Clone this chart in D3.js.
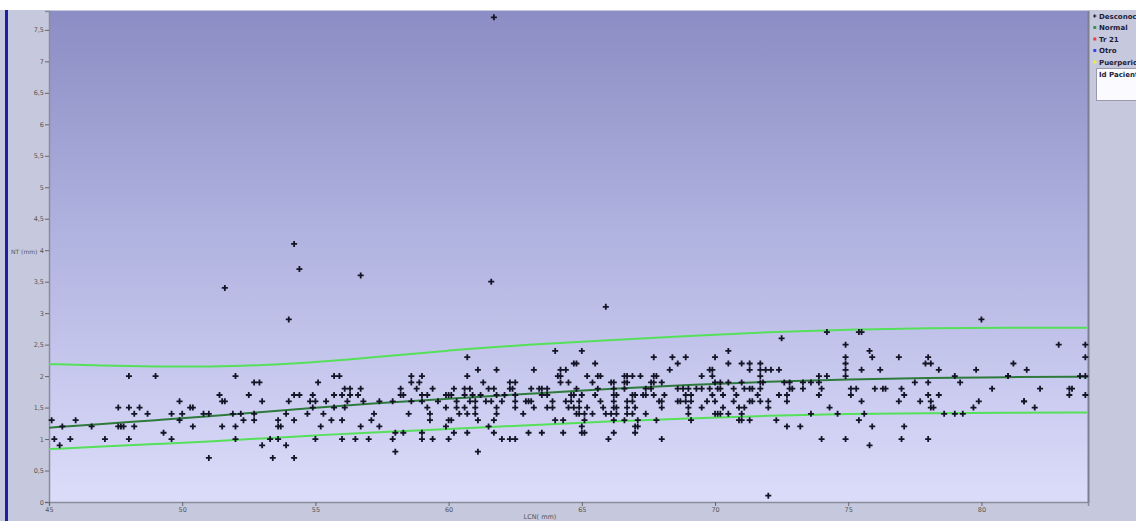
<!DOCTYPE html>
<html>
<head>
<meta charset="utf-8">
<script src="https://cdn.jsdelivr.net/npm/d3@7"></script>
<style>
  html, body { margin: 0; padding: 0; background: #ffffff; }
  svg { display: block; }
  text { font-family: "DejaVu Sans", "Liberation Sans", sans-serif; }
</style>
</head>
<body>
<svg id="chart" width="1136" height="521"></svg>
<script>
// ---- data -------------------------------------------------------------
// Reference curves (LCN in mm) : upper limit, median, lower limit of NT
const curveLCN   = [45, 47, 49, 51, 53, 55, 57, 60, 63, 66, 69, 72, 75, 78, 81, 84];
const curveUpper = [2.19, 2.17, 2.15, 2.15, 2.17, 2.22, 2.29, 2.41, 2.50, 2.57, 2.64, 2.70, 2.74, 2.76, 2.77, 2.77];
const curveMid   = [1.18, 1.24, 1.30, 1.36, 1.43, 1.50, 1.56, 1.64, 1.72, 1.80, 1.86, 1.91, 1.95, 1.97, 1.985, 1.99];
const curveLower = [0.84, 0.88, 0.92, 0.96, 1.01, 1.06, 1.10, 1.16, 1.22, 1.28, 1.33, 1.37, 1.40, 1.41, 1.42, 1.42];

// Patients (category "Desconocido"): LCN (mm) and NT (mm)
const patientLCN = [
  51.6, 54.2, 54.4, 56.7, 61.6, 61.7, 65.9, 80.0, 54.0, 72.0, 82.9, 83.9, 74.2, 75.4, 75.5, 72.5, 74.9, 70.5, 75.8, 64.0, 65.0, 60.7,
  45.1, 45.2, 45.4, 45.5, 45.8, 46.0, 46.6, 47.1, 47.6, 47.6, 47.7, 47.8, 48.0, 48.0, 48.0, 48.2, 48.2, 48.4, 48.7, 49.0, 49.3, 49.6, 49.6,
  49.9, 49.9, 50.0, 50.3, 50.4, 50.4, 50.8, 51.0, 51.0, 51.4, 51.5, 51.6, 51.5, 51.9, 52.0, 52.0, 52.0, 52.2, 52.3, 52.5, 52.7, 52.9,
  52.7, 52.7, 53.0, 53.0, 53.3, 53.4, 53.6, 53.6, 53.7, 53.6, 53.9, 53.9, 54.0, 54.2, 54.2, 54.2, 54.4, 54.7, 54.8, 55.0, 54.9, 54.9,
  55.0, 55.1, 55.2, 55.3, 55.4, 55.6, 55.7, 55.7, 55.7, 55.9,
  61.1, 61.8, 63.2, 64.2, 64.4,
  64.7, 64.8, 65.5,
  58.6, 59.0, 60.7, 64.1, 64.2, 65.2, 65.6, 65.7, 66.6,
  58.6, 58.9, 61.3, 62.3, 62.5, 64.2, 64.5, 65.4, 66.1, 66.2, 66.6, 66.7,
  56.1, 56.3, 56.7, 58.2, 58.8, 59.4, 60.2, 60.6, 60.8, 61.5, 61.7, 62.3, 62.4, 63.1, 63.4, 63.5, 63.7, 64.8, 65.6, 66.2, 66.6,
  56.0, 56.3, 56.6, 58.2, 58.3, 59.0, 59.2, 59.9, 60.0, 60.1, 60.6, 60.9, 61.2, 61.8, 62.1, 62.5, 63.5, 63.7, 64.6, 64.7, 65.0, 65.5, 66.2, 66.3,
  56.2, 56.8, 57.4, 57.9, 58.6, 59.0, 59.6, 60.3, 60.8, 61.0, 61.4, 61.6, 62.0, 62.5, 62.9, 63.0, 63.1, 63.9, 64.4, 64.6, 64.9, 65.7, 66.2, 66.7,
  56.1, 59.2, 59.9, 60.3, 60.6, 61.0, 61.8, 62.5, 63.2, 63.7, 63.9, 64.5, 64.7, 64.9, 65.2, 65.8, 66.2, 66.3,
  57.2, 58.5, 59.3, 60.4, 60.7, 61.0, 61.8, 62.8, 64.8, 64.9, 65.1, 65.4, 65.9, 66.1, 66.3,
  56.0, 57.1, 59.3, 60.0, 60.1, 61.1, 61.7, 64.0, 64.3, 65.1, 66.2, 66.6,
  56.7, 57.4, 59.9, 61.5, 65.0,
  58.0, 58.3, 59.0, 60.2, 60.7, 61.7, 63.0, 63.5, 64.3, 65.0, 65.1, 66.2,
  56.0, 56.5, 57.0, 57.9, 59.0, 59.4, 60.0, 62.0, 62.3, 62.5, 66.0,
  58.0, 61.1,
  67.7, 68.4, 68.9, 70.0, 74.9, 75.9, 76.9,
  68.6, 70.5, 71.0, 71.3, 71.7, 74.9,
  68.3, 69.8, 69.9, 71.3, 71.7, 71.9, 72.1, 72.4, 74.9, 75.5, 76.2,
  66.7, 66.9, 67.2, 67.7, 67.8, 69.5, 69.9, 71.7, 73.9, 74.2, 74.9,
  67.6, 67.7, 68.0, 70.0, 70.2, 70.5, 71.0, 71.7, 71.8, 72.6, 72.8, 73.3, 73.6, 73.9, 77.5,
  67.4, 67.6, 68.6, 68.8, 69.0, 69.3, 69.5, 69.8, 70.1, 70.2, 70.7, 71.1, 71.3, 71.4, 71.7, 72.8, 72.9, 73.3, 74.0, 75.1, 75.3, 76.0, 76.3, 76.4, 77.0,
  66.9, 67.0, 67.3, 67.4, 67.7, 68.1, 68.9, 69.1, 69.9, 70.3, 70.8, 71.6, 72.4, 72.7, 73.9, 75.1, 77.1,
  66.9, 67.9, 68.0, 68.6, 68.7, 68.9, 69.1, 69.7, 70.0, 70.7, 71.3, 71.4, 71.7, 72.0, 72.7, 75.5, 76.9,
  66.7, 67.0, 68.0, 69.0, 69.5, 70.3, 70.9, 71.1, 72.0, 74.3,
  66.7, 66.9, 67.4, 69.0, 70.0, 70.1, 70.2, 70.5, 71.0, 73.6, 74.6, 75.6,
  67.1, 67.8, 69.1, 70.9, 71.0, 71.3, 72.3, 75.4,
  67.0, 67.1, 72.7, 73.2, 75.9, 77.1,
  67.0,
  68.0, 74.0, 74.9, 77.0,
  75.8,
  78.0, 83.9,
  77.9, 78.1, 81.2,
  78.4, 79.8, 81.7,
  79.0, 81.0, 81.0, 83.7, 83.9,
  78.0, 79.2,
  80.4, 82.2, 83.3, 83.4,
  78.0, 78.4, 83.3, 83.9,
  77.7, 78.1, 79.9, 81.6, 81.6,
  78.1, 78.2, 79.7, 82.0,
  78.6, 79.0, 79.3,
  78.0
];
const patientNT = [
  3.4, 4.1, 3.7, 3.6, 3.5, 7.7, 3.1, 2.9, 2.9, 0.1, 2.5, 2.5, 2.7, 2.7, 2.7, 2.6, 2.5, 2.4, 2.4, 2.4, 2.4, 2.3,
  1.3, 1.0, 0.9, 1.2, 1.0, 1.3, 1.2, 1.0, 1.5, 1.2, 1.2, 1.2, 2.0, 1.5, 1.0, 1.4, 1.2, 1.5, 1.4, 2.0, 1.1, 1.4, 1.0,
  1.6, 1.3, 1.4, 1.5, 1.5, 1.2, 1.4, 1.4, 0.7, 1.7, 1.6, 1.6, 1.2, 1.4, 2.0, 1.2, 1.0, 1.4, 1.3, 1.7, 1.9, 1.9,
  1.4, 1.3, 1.6, 0.9, 1.0, 0.7, 1.3, 1.2, 1.2, 1.0, 1.4, 0.9, 1.6, 1.7, 1.3, 0.7, 1.7, 1.4, 1.6, 1.6, 1.7, 1.5,
  1.0, 1.9, 1.2, 1.4, 1.6, 1.3, 2.0, 1.7, 1.5, 2.0,
  2.1, 2.1, 2.1, 2.1, 2.1,
  2.2, 2.2, 2.2,
  2.0, 2.0, 2.0, 2.0, 2.0, 2.0, 2.0, 2.0, 2.0,
  1.9, 1.9, 1.9, 1.9, 1.9, 1.9, 1.9, 1.9, 1.9, 1.9, 1.9, 1.9,
  1.8, 1.8, 1.8, 1.8, 1.8, 1.8, 1.8, 1.8, 1.8, 1.8, 1.8, 1.8, 1.8, 1.8, 1.8, 1.8, 1.8, 1.8, 1.8, 1.8, 1.8,
  1.7, 1.7, 1.7, 1.7, 1.7, 1.7, 1.7, 1.7, 1.7, 1.7, 1.7, 1.7, 1.7, 1.7, 1.7, 1.7, 1.7, 1.7, 1.7, 1.7, 1.7, 1.7, 1.7, 1.7,
  1.6, 1.6, 1.6, 1.6, 1.6, 1.6, 1.6, 1.6, 1.6, 1.6, 1.6, 1.6, 1.6, 1.6, 1.6, 1.6, 1.6, 1.6, 1.6, 1.6, 1.6, 1.6, 1.6, 1.6,
  1.5, 1.5, 1.5, 1.5, 1.5, 1.5, 1.5, 1.5, 1.5, 1.5, 1.5, 1.5, 1.5, 1.5, 1.5, 1.5, 1.5, 1.5,
  1.4, 1.4, 1.4, 1.4, 1.4, 1.4, 1.4, 1.4, 1.4, 1.4, 1.4, 1.4, 1.4, 1.4, 1.4,
  1.3, 1.3, 1.3, 1.3, 1.3, 1.3, 1.3, 1.3, 1.3, 1.3, 1.3, 1.3,
  1.2, 1.2, 1.2, 1.2, 1.2,
  1.1, 1.1, 1.1, 1.1, 1.1, 1.1, 1.1, 1.1, 1.1, 1.1, 1.1, 1.1,
  1.0, 1.0, 1.0, 1.0, 1.0, 1.0, 1.0, 1.0, 1.0, 1.0, 1.0,
  0.8, 0.8,
  2.3, 2.3, 2.3, 2.3, 2.3, 2.3, 2.3,
  2.2, 2.2, 2.2, 2.2, 2.2, 2.2,
  2.1, 2.1, 2.1, 2.1, 2.1, 2.1, 2.1, 2.1, 2.1, 2.1, 2.1,
  2.0, 2.0, 2.0, 2.0, 2.0, 2.0, 2.0, 2.0, 2.0, 2.0, 2.0,
  1.9, 1.9, 1.9, 1.9, 1.9, 1.9, 1.9, 1.9, 1.9, 1.9, 1.9, 1.9, 1.9, 1.9, 1.9,
  1.8, 1.8, 1.8, 1.8, 1.8, 1.8, 1.8, 1.8, 1.8, 1.8, 1.8, 1.8, 1.8, 1.8, 1.8, 1.8, 1.8, 1.8, 1.8, 1.8, 1.8, 1.8, 1.8, 1.8, 1.8,
  1.7, 1.7, 1.7, 1.7, 1.7, 1.7, 1.7, 1.7, 1.7, 1.7, 1.7, 1.7, 1.7, 1.7, 1.7, 1.7, 1.7,
  1.6, 1.6, 1.6, 1.6, 1.6, 1.6, 1.6, 1.6, 1.6, 1.6, 1.6, 1.6, 1.6, 1.6, 1.6, 1.6, 1.6,
  1.5, 1.5, 1.5, 1.5, 1.5, 1.5, 1.5, 1.5, 1.5, 1.5,
  1.4, 1.4, 1.4, 1.4, 1.4, 1.4, 1.4, 1.4, 1.4, 1.4, 1.4, 1.4,
  1.3, 1.3, 1.3, 1.3, 1.3, 1.3, 1.3, 1.3,
  1.2, 1.2, 1.2, 1.2, 1.2, 1.2,
  1.1,
  1.0, 1.0, 1.0, 1.0,
  0.9,
  2.3, 2.3,
  2.2, 2.2, 2.2,
  2.1, 2.1, 2.1,
  2.0, 2.0, 2.0, 2.0, 2.0,
  1.9, 1.9,
  1.8, 1.8, 1.8, 1.8,
  1.7, 1.7, 1.7, 1.7,
  1.6, 1.6, 1.6, 1.6, 1.6,
  1.5, 1.5, 1.5, 1.5,
  1.4, 1.4, 1.4,
  1.0
];

const xTicks = [45, 50, 55, 60, 65, 70, 75, 80];
const yTicks = [0, 0.5, 1, 1.5, 2, 2.5, 3, 3.5, 4, 4.5, 5, 5.5, 6, 6.5, 7, 7.5];

const legendLabels = ["Desconocido", "Normal", "Tr 21", "Otro", "Puerperio"];
const legendColors = ["#111122", "#2f9a4f", "#e2404f", "#3a44e6", "#eeee30"];

// ---- layout -----------------------------------------------------------
const svg = d3.select("#chart");
const W = 1136, H = 521;
const plot = { left: 49, right: 1088, top: 11, bottom: 502 };

const x = d3.scaleLinear().domain([45, 84]).range([plot.left, plot.right]);
const y = d3.scaleLinear().domain([0, 7.8]).range([plot.bottom, plot.top]);

const defs = svg.append("defs");
const grad = defs.append("linearGradient")
  .attr("id", "plotBg").attr("x1", 0).attr("y1", 0).attr("x2", 0).attr("y2", 1);
grad.append("stop").attr("offset", "0%").attr("stop-color", "#8b8dc4");
grad.append("stop").attr("offset", "50%").attr("stop-color", "#b4b6e2");
grad.append("stop").attr("offset", "100%").attr("stop-color", "#dcdcfa");

defs.append("clipPath").attr("id", "plotClip")
  .append("rect")
  .attr("x", plot.left).attr("y", plot.top)
  .attr("width", plot.right - plot.left).attr("height", plot.bottom - plot.top);

// window background
svg.append("rect").attr("x", 0).attr("y", 10).attr("width", W).attr("height", H - 10)
  .attr("fill", "#c6c9dd");
svg.append("rect").attr("x", 5).attr("y", 10).attr("width", 3).attr("height", H - 10)
  .attr("fill", "#1d1ea6");

// plot area
svg.append("rect")
  .attr("x", plot.left).attr("y", plot.top)
  .attr("width", plot.right - plot.left).attr("height", plot.bottom - plot.top)
  .attr("fill", "url(#plotBg)");
svg.append("line")
  .attr("x1", plot.right + 0.5).attr("x2", plot.right + 0.5)
  .attr("y1", plot.top).attr("y2", plot.bottom + 1)
  .attr("stroke", "#7d7f90").attr("stroke-width", 2);

// ---- axes -------------------------------------------------------------
const fmt = v => String(v).replace(".", ",");

const yAxis = svg.append("g")
  .attr("transform", `translate(${plot.left},0)`)
  .call(d3.axisLeft(y).tickValues(yTicks).tickFormat(fmt).tickSize(4).tickPadding(1));
const xAxis = svg.append("g")
  .attr("transform", `translate(0,${plot.bottom})`)
  .call(d3.axisBottom(x).tickValues(xTicks).tickFormat(d3.format("d")).tickSize(4).tickPadding(1));

[yAxis, xAxis].forEach(g => {
  g.select(".domain").attr("stroke", "#8a8c9c").attr("stroke-width", 1.5);
  g.selectAll(".tick line").attr("stroke", "#666");
  g.selectAll(".tick text").attr("fill", "#555").style("font-size", "6.5px");
});

svg.append("text").attr("x", 11).attr("y", 254)
  .attr("fill", "#555").style("font-size", "6px").text("NT (mm)");
svg.append("text").attr("x", 540).attr("y", 519).attr("text-anchor", "middle")
  .attr("fill", "#555").style("font-size", "6.5px").text("LCN( mm)");

// ---- reference curves -------------------------------------------------
const body = svg.append("g").attr("clip-path", "url(#plotClip)");
const line = d3.line().curve(d3.curveBasis).x(d => x(d[0])).y(d => y(d[1]));
const curves = [
  { values: curveUpper, color: "#55e05a", width: 2 },
  { values: curveLower, color: "#55e05a", width: 2 },
  { values: curveMid,   color: "#2e7a3c", width: 2 }
];
curves.forEach(c => {
  body.append("path")
    .datum(curveLCN.map((v, i) => [v, c.values[i]]))
    .attr("d", line)
    .attr("fill", "none")
    .attr("stroke", c.color)
    .attr("stroke-width", c.width);
});

// ---- patients ---------------------------------------------------------
const points = patientLCN.map((v, i) => [v, patientNT[i]]);
svg.append("g").selectAll("path.pt")
  .data(points)
  .join("path")
  .attr("class", "pt")
  .attr("transform", d => `translate(${x(d[0])},${y(d[1])})`)
  .attr("d", "M-3,0H3M0,-3V3")
  .attr("stroke", "#141426")
  .attr("stroke-width", 1.8);

// ---- legend (its right part runs past the window edge) -----------------
const legend = svg.append("g").attr("transform", "translate(1093,0)");
legendLabels.forEach((lab, i) => {
  const cy = 16 + i * 11.5;
  if (i === 0) {
    legend.append("path").attr("d", `M0,${cy}H3.4M1.7,${cy - 1.7}V${cy + 1.7}`)
      .attr("stroke", legendColors[i]).attr("stroke-width", 1);
  } else {
    legend.append("rect").attr("x", 0.3).attr("y", cy - 1.5).attr("width", 3).attr("height", 3)
      .attr("fill", legendColors[i]);
  }
  legend.append("text").attr("x", 6).attr("y", cy + 2.5)
    .attr("fill", "#1c1c3a").style("font-size", "7px").style("font-weight", "bold")
    .text(lab);
});
legend.append("rect").attr("x", 3.5).attr("y", 68.5).attr("width", 50).attr("height", 32)
  .attr("fill", "#fbfbff").attr("stroke", "#9a9aaa").attr("stroke-width", 1);
legend.append("text").attr("x", 6).attr("y", 77)
  .attr("fill", "#1c1c3a").style("font-size", "7px").style("font-weight", "bold")
  .text("Id Paciente");
</script>
</body>
</html>
